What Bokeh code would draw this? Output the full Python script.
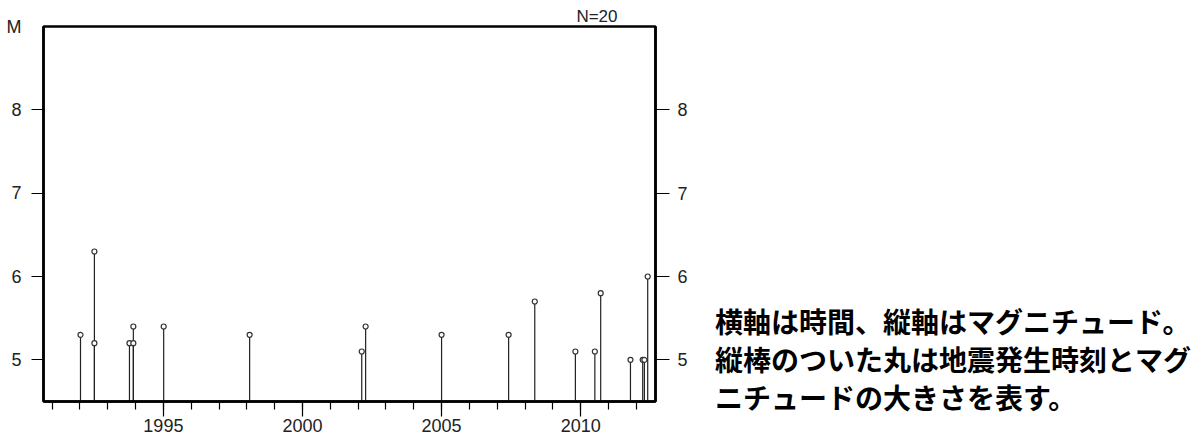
from bokeh.plotting import figure
from bokeh.layouts import row
from bokeh.models import Range1d, LinearAxis, FixedTicker, Title, Div
from bokeh.embed import file_html
from bokeh.resources import INLINE

# ---- data ----
years = [1992.02, 1992.52, 1992.52, 1993.78, 1993.92, 1993.92, 1995.01, 1998.10,
         2002.13, 2002.27, 2005.00, 2007.41, 2008.35, 2009.81, 2010.51, 2010.72,
         2011.79, 2012.23, 2012.29, 2012.41]
mags = [5.3, 6.3, 5.2, 5.2, 5.2, 5.4, 5.4, 5.3,
        5.1, 5.4, 5.3, 5.3, 5.7, 5.1, 5.1, 5.8,
        5.0, 5.0, 5.0, 6.0]
x_major = [1995, 2000, 2005, 2010]
x_minor = list(range(1991, 2013))
y_ticks = [5, 6, 7, 8]
x_start, x_end = 1990.69, 2012.69
y_start, y_end = 4.5, 9.0
count_label = "N=20"
y_title = "M"
note_lines = ["横軸は時間、縦軸はマグニチュード。",
              "縦棒のついた丸は地震発生時刻とマグ",
              "ニチュードの大きさを表す。"]

H = 439
p = figure(width=700, height=H, output_backend="svg", toolbar_location=None,
           x_range=Range1d(x_start, x_end), y_range=Range1d(y_start, y_end),
           min_border_left=43, min_border_top=26, min_border_right=45,
           min_border_bottom=38, x_axis_type=None, y_axis_type=None)
p.grid.visible = False
p.outline_line_color = "black"
p.outline_line_width = 2.5
p.background_fill_color = "white"
p.border_fill_color = "white"

tick_font = "Liberation Sans"

xaxis = LinearAxis(ticker=FixedTicker(ticks=x_major, minor_ticks=x_minor))
xaxis.axis_line_width = 2.5
xaxis.major_tick_out = 15
xaxis.major_tick_in = 0
xaxis.minor_tick_out = 8
xaxis.minor_tick_in = 0
xaxis.major_tick_line_width = 1.2
xaxis.minor_tick_line_width = 1.2
xaxis.major_label_standoff = 2
xaxis.major_label_text_font = tick_font
xaxis.major_label_text_font_size = "18px"
xaxis.major_label_text_color = "#222222"
p.add_layout(xaxis, "below")

# left: tick marks (inner axis), then labels including "M" (outer axis)
left_ticks = LinearAxis(ticker=FixedTicker(ticks=y_ticks, minor_ticks=[]),
                        major_label_overrides={t: "" for t in y_ticks})
left_ticks.axis_line_width = 2.5
left_ticks.major_tick_out = 12
left_ticks.major_tick_in = 0
left_ticks.major_tick_line_width = 1.2
left_ticks.minor_tick_out = 0
left_ticks.major_label_standoff = 0
p.add_layout(left_ticks, "left")

left_labels = LinearAxis(ticker=FixedTicker(ticks=y_ticks + [y_end], minor_ticks=[]),
                         major_label_overrides={y_end: y_title})
left_labels.axis_line_color = None
left_labels.major_tick_out = 0
left_labels.major_tick_in = 0
left_labels.minor_tick_out = 0
left_labels.major_tick_line_color = None
left_labels.major_label_standoff = 10
left_labels.major_label_text_font = tick_font
left_labels.major_label_text_font_size = "18px"
left_labels.major_label_text_color = "#222222"
p.add_layout(left_labels, "left")

right = LinearAxis(ticker=FixedTicker(ticks=y_ticks, minor_ticks=[]))
right.axis_line_width = 2.5
right.major_tick_out = 14
right.major_tick_in = 0
right.major_tick_line_width = 1.2
right.minor_tick_out = 0
right.major_label_standoff = 8
right.major_label_text_font = tick_font
right.major_label_text_font_size = "18px"
right.major_label_text_color = "#222222"
p.add_layout(right, "right")

p.add_layout(Title(text=count_label, align="right", offset=38, standoff=1,
                   text_font=tick_font, text_font_size="17px",
                   text_font_style="normal", text_color="#222222"), "above")

# stems and circles
p.segment(x0=years, y0=[y_start] * len(years), x1=years, y1=mags,
          line_color="#222222", line_width=1.2)
p.scatter(x=years, y=mags, size=5, marker="circle",
          line_color="#333333", line_width=1.2, fill_color="white")

# explanatory note on the right
note_html = (
    '<div style="font-family:\'Noto Sans CJK JP\';font-weight:bold;font-size:28px;'
    'line-height:38px;margin:0;padding:302px 0 0 15px;color:black;white-space:nowrap;">'
    + "<br>".join(note_lines) + "</div>"
)
note = Div(text=note_html, width=502, height=H, styles={"margin": "0", "padding": "0"})

layout = row(p, note, spacing=0)
open("out.html", "w").write(file_html(layout, INLINE))
